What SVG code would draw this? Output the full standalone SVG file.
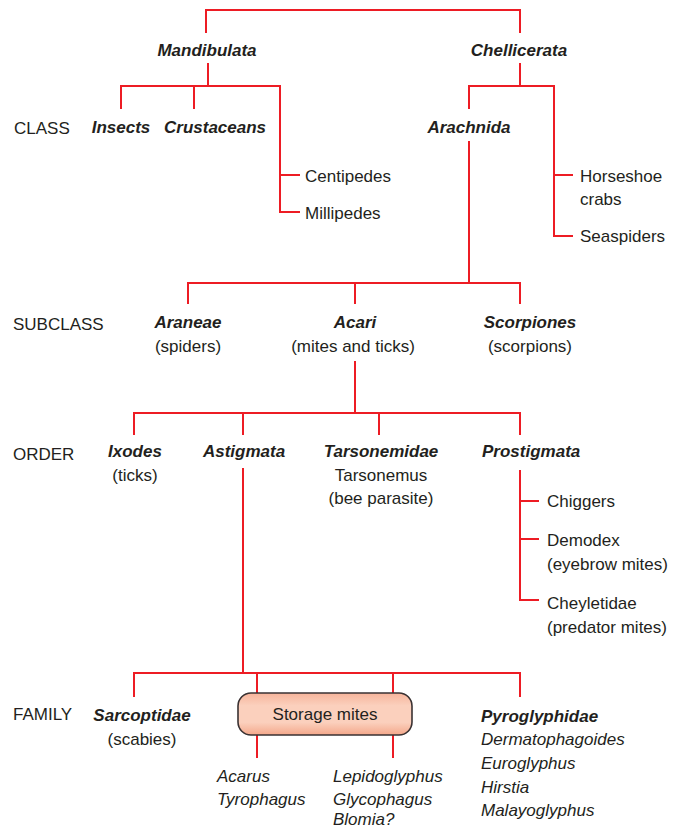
<svg xmlns="http://www.w3.org/2000/svg" width="679" height="829" viewBox="0 0 679 829">
<defs>
<style>
text{font-family:"Liberation Sans",Arial,sans-serif;font-size:17px;fill:#231f20}
.bi{font-weight:bold;font-style:italic}
.i{font-style:italic}
.m{text-anchor:middle}
.lines path{fill:none;stroke:#ed1c24;stroke-width:2}
</style>
<linearGradient id="boxg" x1="0" y1="0" x2="0" y2="1">
<stop offset="0" stop-color="#f6b49b"/>
<stop offset="0.3" stop-color="#fbd0bd"/>
<stop offset="0.7" stop-color="#fbd0bd"/>
<stop offset="1" stop-color="#f4a88b"/>
</linearGradient>
</defs>
<rect width="679" height="829" fill="#fff"/>
<g class="lines" id="connectors">
<path d="M206,33 V10 H520 V33"/>
<path d="M208,63 V86"/>
<path d="M121,109 V86 H280 V212 H300"/>
<path d="M194,86 V109"/>
<path d="M280,175 H300"/>
<path d="M520,63 V86"/>
<path d="M469,109 V86 H554 V236 H573"/>
<path d="M554,175 H573"/>
<path d="M469,141 V283"/>
<path d="M188,304 V283 H520 V304"/>
<path d="M355,283 V304"/>
<path d="M355,361 V413"/>
<path d="M134,435 V413 H520 V435"/>
<path d="M243,413 V435"/>
<path d="M379,413 V435"/>
<path d="M520,470 V600 H539"/>
<path d="M520,501 H539"/>
<path d="M520,539 H539"/>
<path d="M243,468 V673"/>
<path d="M134,697 V673 H520 V697"/>
<path d="M257,673 V693"/>
<path d="M393,673 V693"/>
<path d="M257,735 V758"/>
<path d="M393,735 V758"/>
</g>
<g id="levels">
<text x="14" y="134">CLASS</text>
<text x="13" y="330">SUBCLASS</text>
<text x="13" y="460">ORDER</text>
<text x="13" y="720">FAMILY</text>
</g>
<g id="mandibulata"><text class="bi m" x="207" y="56">Mandibulata</text></g>
<g id="chellicerata"><text class="bi m" x="519" y="56">Chellicerata</text></g>
<g id="insects"><text class="bi m" x="121" y="133">Insects</text></g>
<g id="crustaceans"><text class="bi" x="164" y="133">Crustaceans</text></g>
<g id="centipedes"><text x="305" y="182">Centipedes</text></g>
<g id="millipedes"><text x="305" y="219">Millipedes</text></g>
<g id="arachnida"><text class="bi m" x="469" y="133">Arachnida</text></g>
<g id="horseshoe"><text x="580" y="182">Horseshoe</text><text x="580" y="205">crabs</text></g>
<g id="seaspiders"><text x="580" y="242">Seaspiders</text></g>
<g id="araneae"><text class="bi m" x="188" y="328">Araneae</text><text class="m" x="188" y="352">(spiders)</text></g>
<g id="acari"><text class="bi m" x="355" y="328">Acari</text><text class="m" x="353" y="352">(mites and ticks)</text></g>
<g id="scorpiones"><text class="bi m" x="530" y="328">Scorpiones</text><text class="m" x="530" y="352">(scorpions)</text></g>
<g id="ixodes"><text class="bi m" x="135" y="457">Ixodes</text><text class="m" x="135" y="481">(ticks)</text></g>
<g id="astigmata"><text class="bi m" x="244" y="457">Astigmata</text></g>
<g id="tarsonemidae"><text class="bi m" x="381" y="457">Tarsonemidae</text><text class="m" x="381" y="481">Tarsonemus</text><text class="m" x="381" y="504">(bee parasite)</text></g>
<g id="prostigmata"><text class="bi" x="482" y="457">Prostigmata</text></g>
<g id="chiggers"><text x="547" y="507">Chiggers</text></g>
<g id="demodex"><text x="547" y="546">Demodex</text><text x="547" y="570">(eyebrow mites)</text></g>
<g id="cheyletidae"><text x="547" y="609">Cheyletidae</text><text x="547" y="633">(predator mites)</text></g>
<g id="sarcoptidae"><text class="bi m" x="142" y="721">Sarcoptidae</text><text class="m" x="142" y="745">(scabies)</text></g>
<g id="storage-mites"><rect x="238" y="693" width="174" height="42" rx="13" fill="url(#boxg)" stroke="#3a3233" stroke-width="1.6"/><text class="m" x="325" y="720">Storage mites</text></g>
<g id="pyroglyphidae"><text class="bi" x="481" y="722">Pyroglyphidae</text><text class="i" x="481" y="745">Dermatophagoides</text><text class="i" x="481" y="769">Euroglyphus</text><text class="i" x="481" y="793">Hirstia</text><text class="i" x="481" y="816">Malayoglyphus</text></g>
<g id="acarus"><text class="i" x="217" y="782">Acarus</text><text class="i" x="217" y="805">Tyrophagus</text></g>
<g id="lepidoglyphus"><text class="i" x="333" y="782">Lepidoglyphus</text><text class="i" x="333" y="805">Glycophagus</text><text class="i" x="333" y="825">Blomia?</text></g>
</svg>
